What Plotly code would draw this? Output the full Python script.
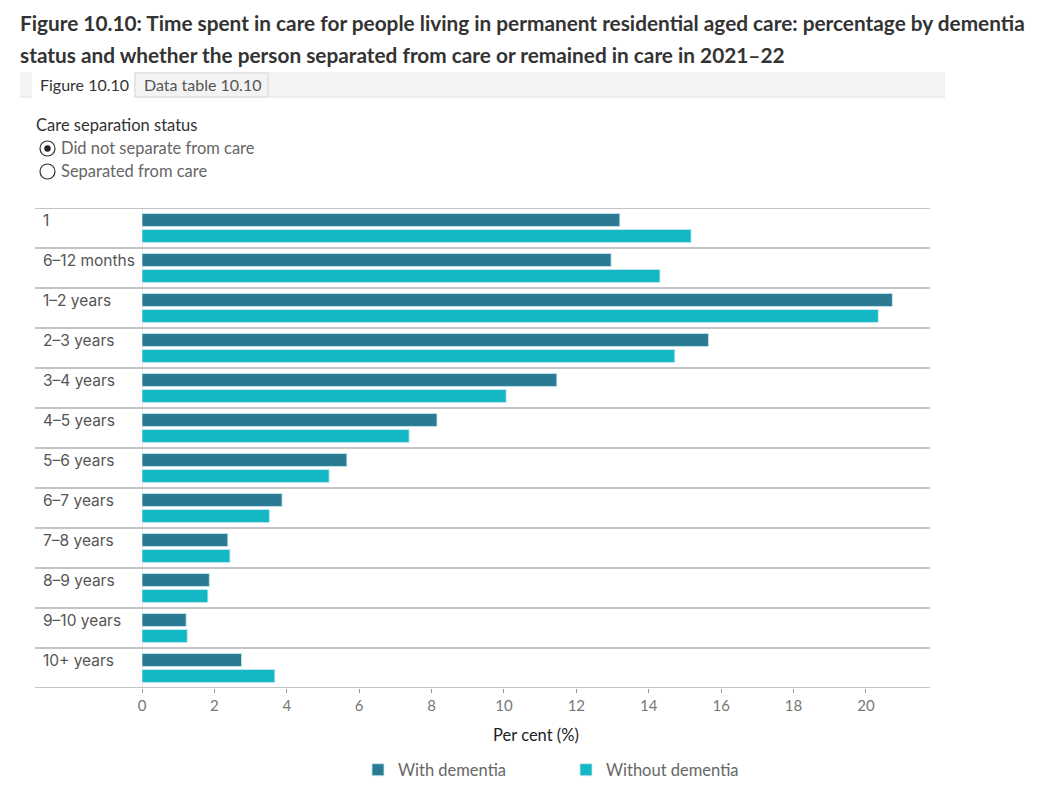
import plotly.graph_objects as go

categories = ["1", "6–12 months", "1–2 years", "2–3 years", "3–4 years", "4–5 years",
              "5–6 years", "6–7 years", "7–8 years", "8–9 years", "9–10 years", "10+ years"]
with_dementia = [13.2, 12.96, 20.73, 15.65, 11.46, 8.15, 5.66, 3.87, 2.37, 1.86, 1.22, 2.75]
without_dementia = [15.17, 14.31, 20.34, 14.72, 10.06, 7.38, 5.17, 3.52, 2.43, 1.82, 1.25, 3.67]
series_names = ["With dementia", "Without dementia"]
series_colors = ["#2b7a94", "#13b8c4"]

W, H = 1053, 804
L, R, T, B = 142, 930, 208, 688

def px(x):
    return (x - L) / (R - L)

def py(y):
    return (B - y) / (B - T)

fig = go.Figure()
for name, vals, col in zip(series_names, [with_dementia, without_dementia], series_colors):
    fig.add_trace(go.Bar(
        y=categories, x=vals, orientation="h", name=name,
        marker=dict(color=col, line=dict(color="rgba(200,235,240,0.8)", width=1)),
        hoverinfo="x+name",
    ))

shapes = []
# band separator lines
for i in range(len(categories) + 1):
    shapes.append(dict(type="line", xref="paper", yref="y", x0=px(35), x1=1,
                       y0=i - 0.5, y1=i - 0.5, line=dict(color="#b0b0b0", width=1.6), layer="above"))
# zero line
shapes.append(dict(type="line", xref="x", yref="paper", x0=0, x1=0, y0=0, y1=1,
                   line=dict(color="#e6d8d8", width=1), layer="below"))
# tab bar
shapes.append(dict(type="rect", xref="paper", yref="paper", x0=px(20), x1=px(945), y0=py(97), y1=py(72),
                   fillcolor="#f3f3f3", line=dict(width=0), layer="below"))
shapes.append(dict(type="line", xref="paper", yref="paper", x0=px(20), x1=px(945), y0=py(97), y1=py(97),
                   line=dict(color="#e2e2e2", width=1)))
shapes.append(dict(type="rect", xref="paper", yref="paper", x0=px(32), x1=px(134), y0=py(98), y1=py(72),
                   fillcolor="white", line=dict(width=0)))
shapes.append(dict(type="rect", xref="paper", yref="paper", x0=px(135), x1=px(268), y0=py(97), y1=py(73),
                   fillcolor="#f3f3f3", line=dict(color="#d8d8d8", width=1)))
# radio buttons
shapes.append(dict(type="circle", xref="paper", yref="paper", x0=px(40), x1=px(55), y0=py(156), y1=py(141),
                   line=dict(color="#333", width=1.2), fillcolor="white"))
shapes.append(dict(type="circle", xref="paper", yref="paper", x0=px(44.3), x1=px(50.7), y0=py(151.7), y1=py(145.3),
                   line=dict(width=0), fillcolor="#222"))
shapes.append(dict(type="circle", xref="paper", yref="paper", x0=px(40), x1=px(55), y0=py(179), y1=py(164),
                   line=dict(color="#333", width=1.2), fillcolor="white"))

annotations = []
for i, c in enumerate(categories):
    annotations.append(dict(text=c, xref="paper", yref="y", x=px(41), y=i - 0.5, xanchor="left",
                            yanchor="top", yshift=-1, showarrow=False,
                            font=dict(family="Inter, Noto Sans, sans-serif", size=15.5, color="#555")))

title_font = dict(family="Lato, sans-serif", size=20.8, color="#333")
side_font = "Lato, sans-serif"
annotations += [
    dict(text="<b>Figure 10.10: Time spent in care for people living in permanent residential aged care: percentage by dementia</b>",
         xref="paper", yref="paper", x=px(18), y=py(23), xanchor="left", yanchor="middle", showarrow=False, font=title_font),
    dict(text="<b>status and whether the person separated from care or remained in care in 2021–22</b>",
         xref="paper", yref="paper", x=px(18), y=py(54), xanchor="left", yanchor="middle", showarrow=False, font=title_font),
    dict(text="Figure 10.10", xref="paper", yref="paper", x=px(84), y=py(85), xanchor="center", yanchor="middle",
         showarrow=False, font=dict(family=side_font, size=16, color="#333")),
    dict(text="Data table 10.10", xref="paper", yref="paper", x=px(202), y=py(85), xanchor="center", yanchor="middle",
         showarrow=False, font=dict(family=side_font, size=16, color="#555")),
    dict(text="Care separation status", xref="paper", yref="paper", x=px(34), y=py(125), xanchor="left", yanchor="middle",
         showarrow=False, font=dict(family=side_font, size=16.5, color="#333")),
    dict(text="Did not separate from care", xref="paper", yref="paper", x=px(59), y=py(148), xanchor="left", yanchor="middle",
         showarrow=False, font=dict(family=side_font, size=16.5, color="#666")),
    dict(text="Separated from care", xref="paper", yref="paper", x=px(59), y=py(171), xanchor="left", yanchor="middle",
         showarrow=False, font=dict(family=side_font, size=16.5, color="#666")),
]

fig.update_layout(
    width=W, height=H,
    margin=dict(l=L, r=W - R, t=T, b=H - B, pad=0, autoexpand=False),
    paper_bgcolor="white", plot_bgcolor="white",
    barmode="group", bargap=0.2, bargroupgap=0.19,
    shapes=shapes, annotations=annotations,
    showlegend=True,
    legend=dict(orientation="h", xref="container", yref="container",
                x=358 / W, xanchor="left", y=1 - 770 / H, yanchor="middle",
                font=dict(family=side_font, size=16.5, color="#666"),
                entrywidth=163, entrywidthmode="pixels", traceorder="normal"),
    xaxis=dict(range=[0, 21.77], dtick=2, tick0=0, showgrid=False, zeroline=False,
               ticks="outside", ticklen=4, tickcolor="#999", tickwidth=1,
               tickfont=dict(family=side_font, size=15, color="#777"),
               title=dict(text="Per cent (%)", font=dict(family=side_font, size=16.5, color="#222"), standoff=16),
               fixedrange=True),
    yaxis=dict(range=[len(categories) - 0.5, -0.5], autorange=False, showticklabels=False,
               showgrid=False, zeroline=False, ticks="", fixedrange=True),
)

fig.write_html("out.html", config={"displayModeBar": False},
               post_script="document.body.style.margin='0';")
